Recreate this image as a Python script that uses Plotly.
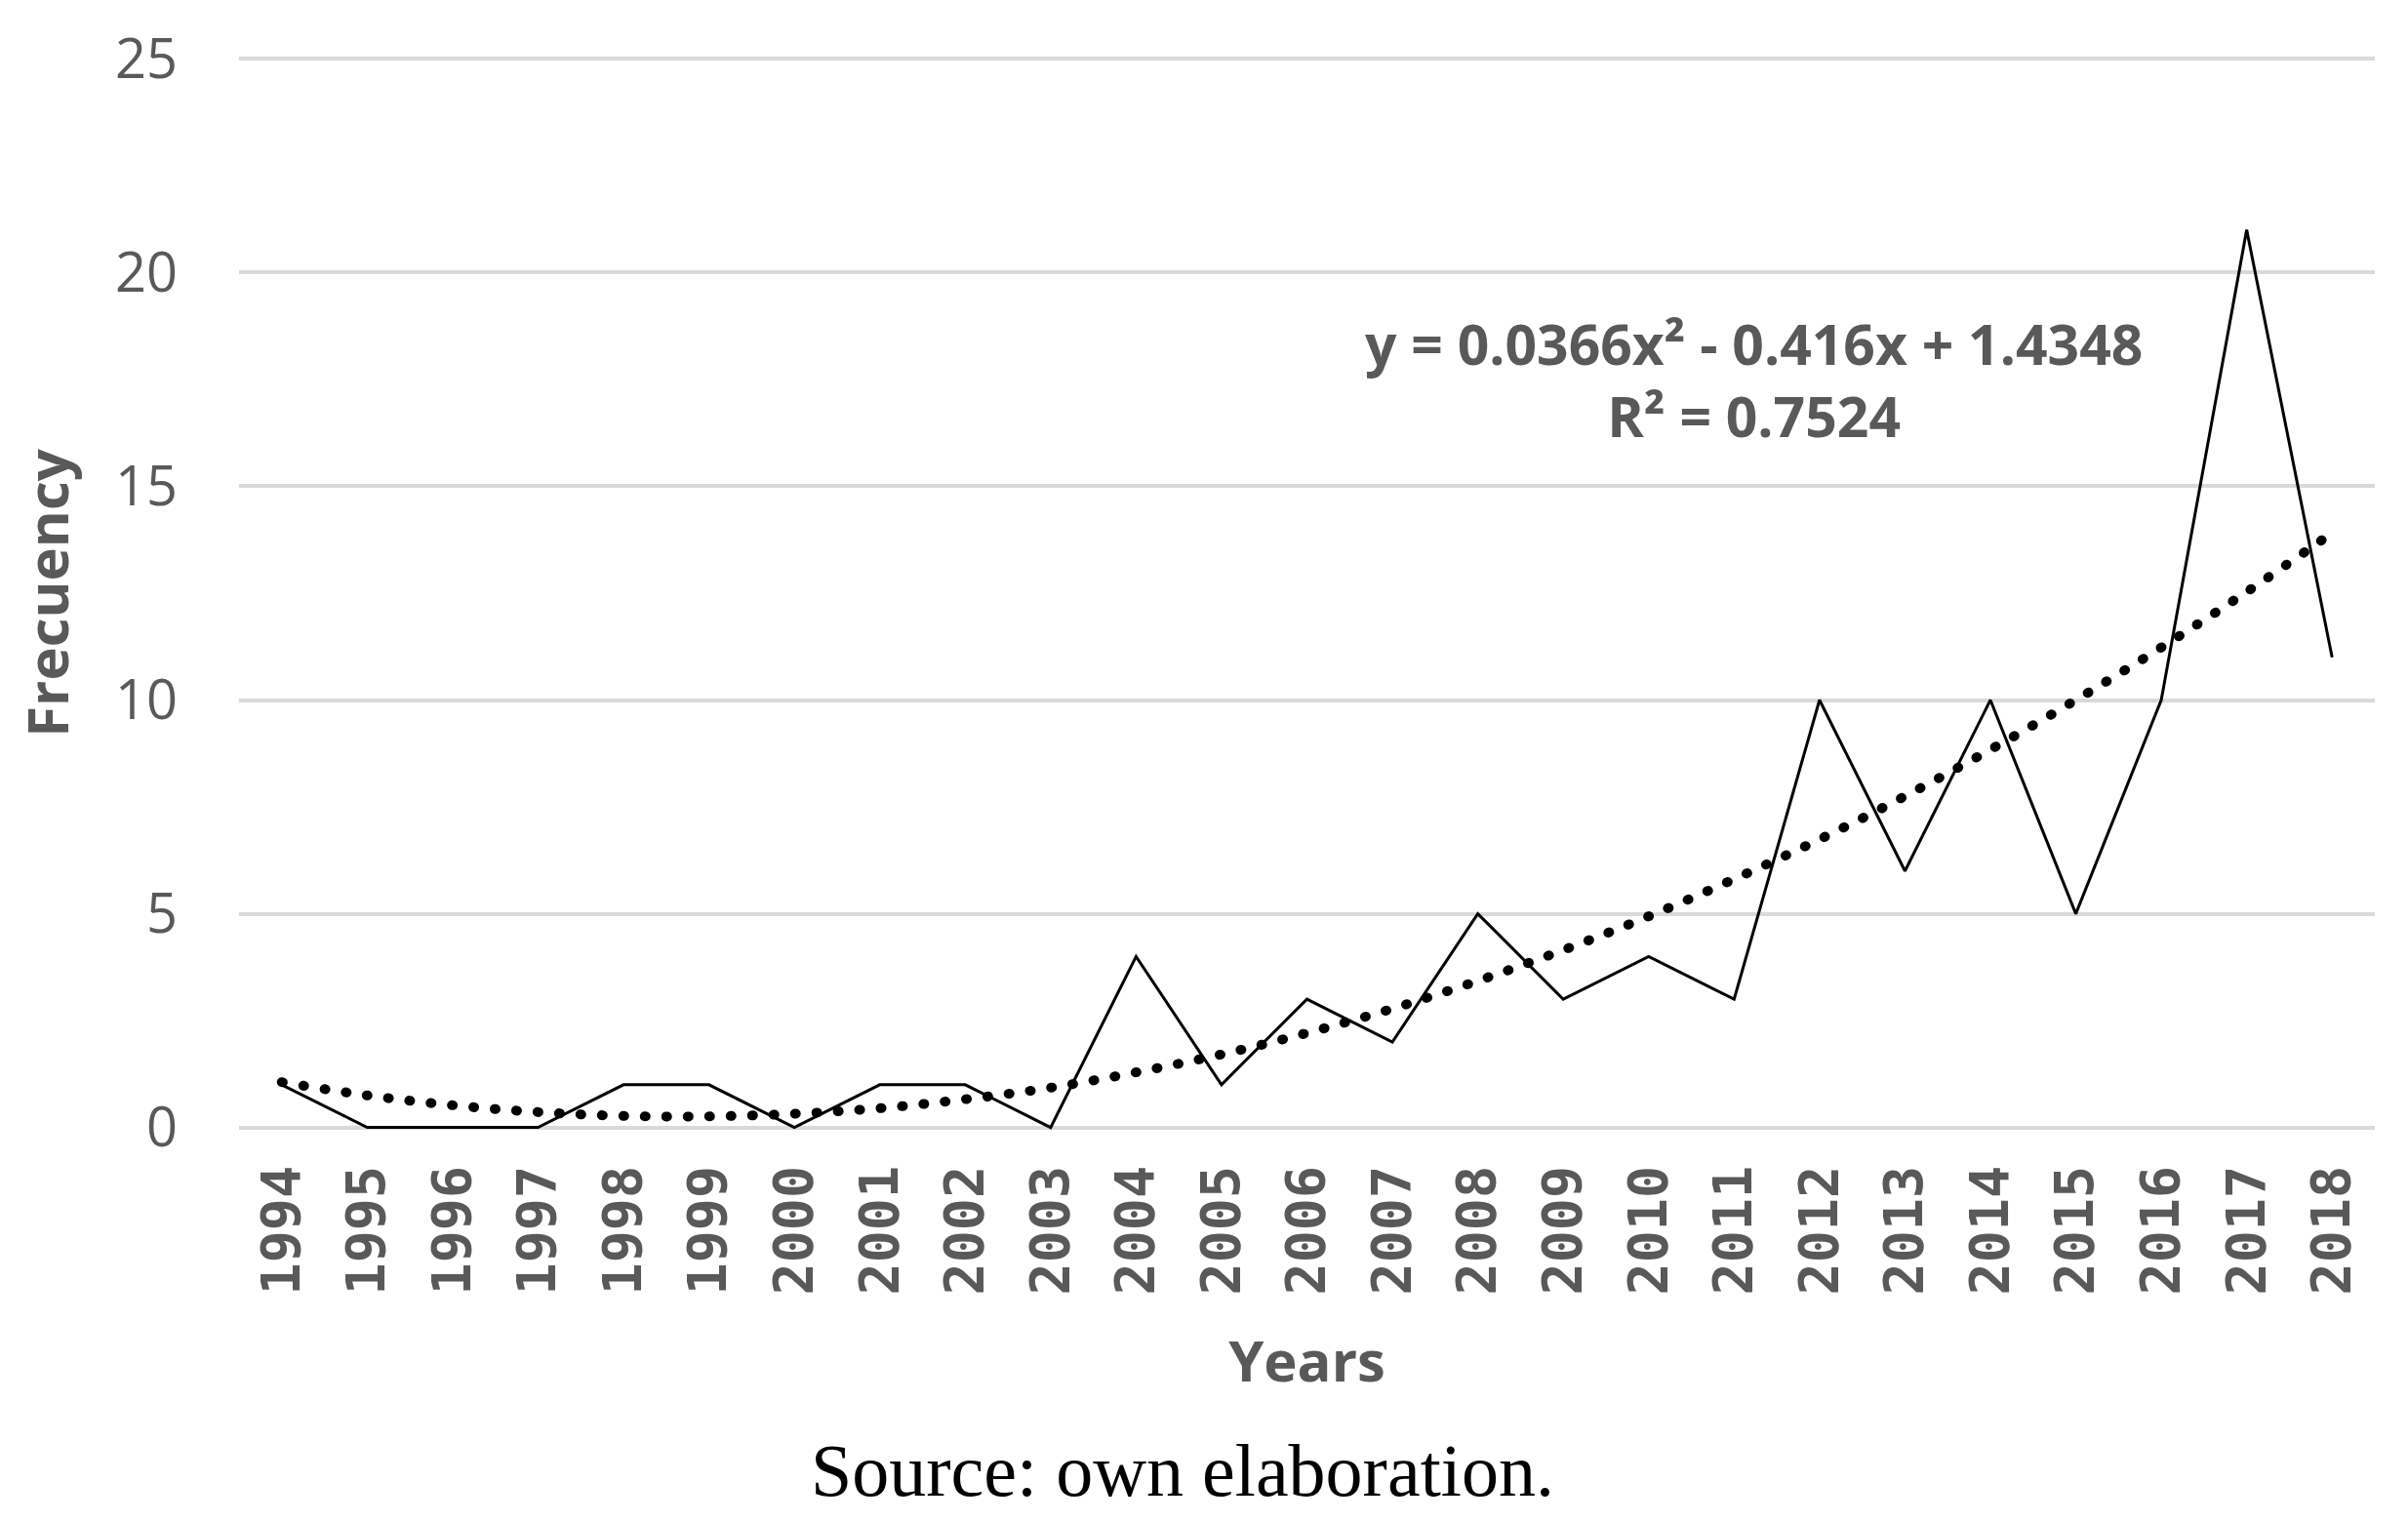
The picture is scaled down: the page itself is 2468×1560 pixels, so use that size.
import plotly.graph_objects as go

years = [str(y) for y in range(1994, 2019)]
frecuency = [1, 0, 0, 0, 1, 1, 0, 1, 1, 0, 4, 1, 3, 2, 5, 3, 4, 3, 10, 6, 10, 5, 10, 21, 11]
# polynomial trend (order 2)
trend = [1.06, 0.75, 0.52, 0.36, 0.27, 0.26, 0.32, 0.45, 0.66, 0.93, 1.29, 1.71, 2.21,
         2.78, 3.43, 4.15, 4.94, 5.81, 6.74, 7.75, 8.84, 10.00, 11.23, 12.53, 13.91]
y_ticks = [0, 5, 10, 15, 20, 25]

grey = "#595959"

fig = go.Figure()
fig.add_trace(go.Scatter(x=years, y=frecuency, mode="lines",
                         line=dict(color="black", width=3), showlegend=False))
fig.add_trace(go.Scatter(x=years, y=trend, mode="lines",
                         line=dict(color="black", width=10, dash="1px,21px", shape="spline"),
                         showlegend=False))

fig.add_annotation(x=0.709, xref="paper", y=17.5, yref="y",
                   text="y = 0.0366x² - 0.416x + 1.4348<br>R² = 0.7524",
                   showarrow=False, xanchor="center", yanchor="middle",
                   font=dict(family="Open Sans", size=57, color=grey, weight="bold"))
fig.add_annotation(x=0.4418, xref="paper", y=-0.314, yref="paper",
                   text="Source: own elaboration.", showarrow=False,
                   xanchor="center", yanchor="middle",
                   font=dict(family="Liberation Serif", size=76, color="black"))

fig.update_layout(
    width=2468, height=1560,
    margin=dict(l=237, r=42, t=37, b=408),
    plot_bgcolor="white", paper_bgcolor="white",
    xaxis=dict(
        type="category", range=[-0.5, 24.5], showgrid=False, showline=False,
        zeroline=False, ticks="", tickangle=-90, ticklabelstandoff=23,
        tickfont=dict(family="DejaVu Sans Mono", size=55, color=grey, weight="bold"),
        title=dict(text="Years", standoff=48,
                   font=dict(family="Open Sans", size=58, color=grey, weight="bold")),
    ),
    yaxis=dict(
        range=[-0.1, 25.1], tickvals=y_ticks, showgrid=True, gridcolor="#d9d9d9", gridwidth=4,
        zeroline=False, showline=False, ticks="", ticklabelstandoff=62,
        tickfont=dict(family="Open Sans", size=56, color=grey),
        title=dict(text="Frecuency", standoff=34,
                   font=dict(family="Open Sans", size=58, color=grey, weight="bold")),
    ),
)

# round dots for the trend line
round_dots = """
var gd = document.getElementById('{plot_id}');
function roundDots() {
  var traces = gd.querySelectorAll('.scatterlayer .trace');
  if (traces.length > 1) {
    traces[1].querySelectorAll('path.js-line').forEach(function (p) {
      p.style.strokeLinecap = 'round';
    });
  }
}
roundDots();
gd.on('plotly_afterplot', roundDots);
"""

fig.write_html("out.html", post_script=round_dots)
